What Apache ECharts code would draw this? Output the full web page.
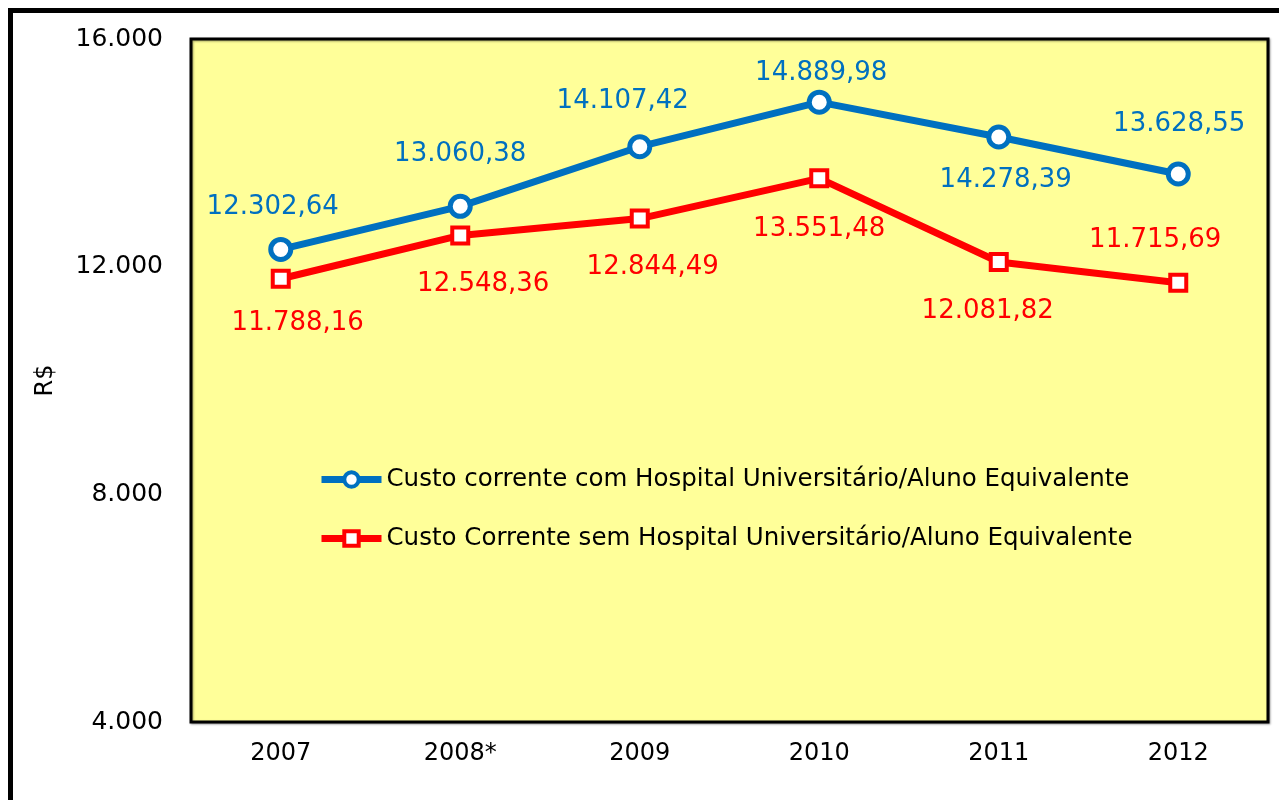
<!DOCTYPE html>
<html>
<head>
<meta charset="utf-8">
<script src="https://cdn.jsdelivr.net/npm/echarts@6/dist/echarts.min.js"></script>
<style>
  html, body { margin: 0; padding: 0; background: #fff; }
  #chart { width: 1279px; height: 800px; }
</style>
</head>
<body>
<div id="chart"></div>
<script>
// dados
let anos = ["2007", "2008*", "2009", "2010", "2011", "2012"];
let comHU = [12302.64, 13060.38, 14107.42, 14889.98, 14278.39, 13628.55];
let semHU = [11788.16, 12548.36, 12844.49, 13551.48, 12081.82, 11715.69];
let nomeComHU = "Custo corrente com Hospital Universitário/Aluno Equivalente";
let nomeSemHU = "Custo Corrente sem Hospital Universitário/Aluno Equivalente";
let yTicks = [4000, 8000, 12000, 16000];

// deslocamento dos rótulos (estilo)
let offComHU = [[-8, -42], [0, -52], [-17, -45], [2, -29], [7, 43], [1, -50]];
let offSemHU = [[17, 45], [23, 49], [13, 49], [0, 51], [-11, 49], [-23, -43]];

const fonte = "DejaVu Sans";

function fmtMil(v){
    let s = String(Math.round(v));
    return s.replace(/\B(?=(\d{3})+(?!\d))/g, ".");
}
function fmtBR(v){
    let partes = v.toFixed(2).split(".");
    return fmtMil(Number(partes[0])) + "," + partes[1];
}

function montaDados(valores, offs){
    let out = [];
    for(let i = 0; i < valores.length; i++){
        out.push({
            value: valores[i],
            label: { offset: offs[i] }
        });
    }
    return out;
}

let chartDOM = document.getElementById("chart");
let chart = echarts.init(chartDOM);
let opts = {
    animation: false,
    textStyle: { fontFamily: fonte },
    graphic: [{
        type: "rect",
        left: 8, top: 8,
        shape: { width: 1300, height: 820 },
        style: { fill: "none", stroke: "#000", lineWidth: 5 },
        z: 100
    }],
    grid: {
        show: true,
        left: 191, top: 39, right: 11, bottom: 78,
        backgroundColor: "#FFFF99",
        borderColor: "#000",
        borderWidth: 3,
        shadowColor: "rgba(0,0,0,0.35)",
        shadowBlur: 2,
        shadowOffsetX: 1,
        shadowOffsetY: 1
    },
    legend: {
        orient: "vertical",
        left: 313,
        top: 462,
        itemWidth: 60,
        itemHeight: 18,
        itemGap: 34,
        lineStyle: { width: 7 },
        itemStyle: { borderWidth: 4 },
        textStyle: { fontFamily: fonte, fontSize: 24.5, color: "#000" },
        data: [nomeComHU, nomeSemHU]
    },
    xAxis: {
        type: "category",
        data: anos,
        boundaryGap: true,
        axisLine: { show: false },
        axisTick: { show: false },
        axisLabel: { fontFamily: fonte, fontSize: 24, color: "#000", margin: 20 }
    },
    yAxis: {
        type: "value",
        min: yTicks[0],
        max: yTicks[yTicks.length - 1],
        interval: 4000,
        name: "R$",
        nameLocation: "middle",
        nameRotate: 90,
        nameGap: 133,
        nameTextStyle: { fontFamily: fonte, fontSize: 24, color: "#000" },
        axisLine: { show: false },
        axisTick: { show: false },
        splitLine: { show: false },
        axisLabel: {
            fontFamily: fonte, fontSize: 25, color: "#000", margin: 28,
            formatter: function(v){ return fmtMil(v); }
        }
    },
    series: [{
        name: nomeComHU,
        type: "line",
        data: montaDados(comHU, offComHU),
        symbol: "circle",
        symbolSize: 20,
        lineStyle: { color: "#0070C0", width: 7 },
        itemStyle: { color: "#fff", borderColor: "#0070C0", borderWidth: 5 },
        label: {
            show: true,
            position: "inside",
            fontFamily: fonte,
            fontSize: 26,
            color: "#0070C0",
            formatter: function(p){ return fmtBR(p.value); }
        },
        z: 3
    }, {
        name: nomeSemHU,
        type: "line",
        data: montaDados(semHU, offSemHU),
        symbol: "rect",
        symbolSize: 16,
        lineStyle: { color: "#FF0000", width: 7 },
        itemStyle: { color: "#fff", borderColor: "#FF0000", borderWidth: 4 },
        label: {
            show: true,
            position: "inside",
            fontFamily: fonte,
            fontSize: 26,
            color: "#FF0000",
            formatter: function(p){ return fmtBR(p.value); }
        },
        z: 2
    }]
};
chart.setOption(opts);
</script>
</body>
</html>
